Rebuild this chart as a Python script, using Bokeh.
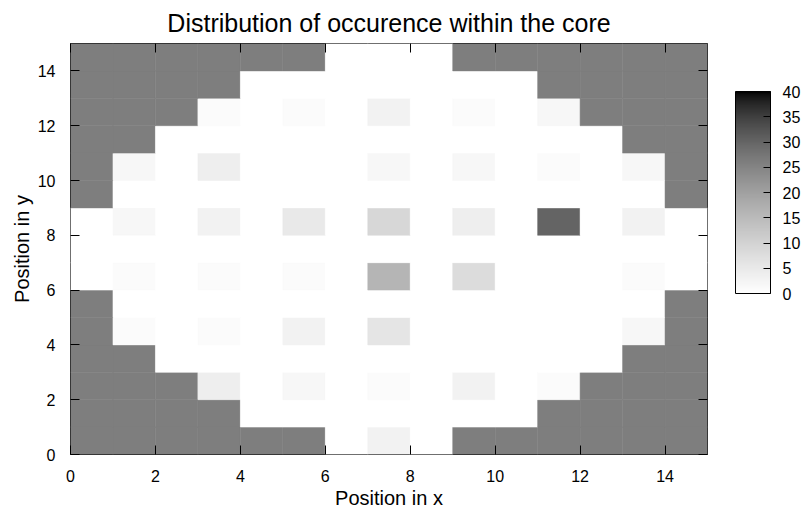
from bokeh.plotting import figure
from bokeh.models import (LinearColorMapper, ColorBar, FixedTicker, LinearAxis,
                          ColumnDataSource, Range1d)
from bokeh.transform import transform
from bokeh.embed import file_html
from bokeh.resources import INLINE

# ---- data (rows listed from bottom, y=0, up to top, y=14) ----
OUT = 26  # cells outside the core
row_0 = [OUT, OUT, OUT, OUT, OUT, OUT, 0, 3, 0, OUT, OUT, OUT, OUT, OUT, OUT]
row_1 = [OUT, OUT, OUT, OUT, 0, 0, 0, 0, 0, 0, 0, OUT, OUT, OUT, OUT]
row_2 = [OUT, OUT, OUT, 4, 0, 2, 0, 1, 0, 3, 0, 1, OUT, OUT, OUT]
row_3 = [OUT, OUT, 0, 0, 0, 0, 0, 0, 0, 0, 0, 0, 0, OUT, OUT]
row_4 = [OUT, 1, 0, 1, 0, 3, 0, 6, 0, 0, 0, 0, 0, 2, OUT]
row_5 = [OUT, 0, 0, 0, 0, 0, 0, 0, 0, 0, 0, 0, 0, 0, OUT]
row_6 = [0, 1, 0, 1, 0, 1, 0, 16, 0, 8, 0, 0, 0, 1, 0]
row_7 = [0, 0, 0, 0, 0, 0, 0, 0, 0, 0, 0, 0, 0, 0, 0]
row_8 = [0, 2, 0, 3, 0, 5, 0, 9, 0, 4, 0, 30, 0, 3, 0]
row_9 = [OUT, 0, 0, 0, 0, 0, 0, 0, 0, 0, 0, 0, 0, 0, OUT]
row_10 = [OUT, 2, 0, 4, 0, 0, 0, 2, 0, 2, 0, 1, 0, 2, OUT]
row_11 = [OUT, OUT, 0, 0, 0, 0, 0, 0, 0, 0, 0, 0, 0, OUT, OUT]
row_12 = [OUT, OUT, OUT, 1, 0, 1, 0, 3, 0, 1, 0, 2, OUT, OUT, OUT]
row_13 = [OUT, OUT, OUT, OUT, 0, 0, 0, 0, 0, 0, 0, OUT, OUT, OUT, OUT]
row_14 = [OUT, OUT, OUT, OUT, OUT, OUT, 0, 0, 0, OUT, OUT, OUT, OUT, OUT, OUT]
rows = [row_0, row_1, row_2, row_3, row_4, row_5, row_6, row_7,
        row_8, row_9, row_10, row_11, row_12, row_13, row_14]

x_ticks = [0, 2, 4, 6, 8, 10, 12, 14]
y_ticks = [0, 2, 4, 6, 8, 10, 12, 14]
cbar_ticks = [0, 5, 10, 15, 20, 25, 30, 35, 40]
cbar_low, cbar_high = 0, 40

# ---- build cell table ----
xs, ys, vals = [], [], []
for j, row in enumerate(rows):
    for i, v in enumerate(row):
        xs.append(i)
        ys.append(j)
        vals.append(v)
src = ColumnDataSource(dict(left=xs, right=[x + 1 for x in xs],
                            bottom=ys, top=[y + 1 for y in ys], value=vals))

# gnuplot-like negative gray palette with gamma 1.5
palette = []
for k in range(256):
    t = k / 255
    g = round(255 * (1 - t) ** (1 / 1.5))
    palette.append("#%02x%02x%02x" % (g, g, g))
mapper = LinearColorMapper(palette=palette, low=cbar_low, high=cbar_high)

FONT = "Liberation Sans"
TICK_PX = "16px"

p = figure(width=807, height=513, frame_width=637, frame_height=411,
           x_range=Range1d(0, 15), y_range=Range1d(0, 15),
           output_backend="svg", toolbar_location=None,
           min_border_left=70, min_border_right=100,
           min_border_top=43, min_border_bottom=59)

p.quad(left="left", right="right", bottom="bottom", top="top", source=src,
       fill_color=transform("value", mapper),
       line_color=transform("value", mapper), line_width=0.5)

p.grid.visible = False
p.outline_line_color = "black"
p.outline_line_width = 1
p.background_fill_color = "white"

p.title.text = "Distribution of occurence within the core"
p.title.align = "center"
p.title.text_font = FONT
p.title.text_font_style = "normal"
p.title.text_font_size = "25px"
p.title.text_color = "black"
p.title.offset = 0
p.title.standoff = 13

for ax in (p.xaxis[0], p.yaxis[0]):
    ax.major_tick_in = 9
    ax.major_tick_out = 0
    ax.minor_tick_line_color = None
    ax.axis_line_color = None
    ax.major_tick_line_color = "black"
    ax.major_label_text_font = FONT
    ax.major_label_text_font_size = TICK_PX
    ax.major_label_text_color = "black"
    ax.axis_label_text_font = FONT
    ax.axis_label_text_font_size = "20px"
    ax.axis_label_text_font_style = "normal"
    ax.axis_label_text_color = "black"

p.xaxis[0].ticker = FixedTicker(ticks=x_ticks)
p.yaxis[0].ticker = FixedTicker(ticks=y_ticks)
p.xaxis[0].axis_label = "Position in x"
p.yaxis[0].axis_label = "Position in y"
p.xaxis[0].major_label_standoff = 15
p.xaxis[0].axis_label_standoff = 2
p.yaxis[0].major_label_standoff = 15
p.yaxis[0].axis_label_standoff = 2

# mirrored ticks on top and right
top_ax = LinearAxis(ticker=FixedTicker(ticks=x_ticks),
                    major_label_overrides={t: "" for t in x_ticks})
right_ax = LinearAxis(ticker=FixedTicker(ticks=y_ticks),
                      major_label_overrides={t: "" for t in y_ticks})
for ax in (top_ax, right_ax):
    ax.major_tick_in = 9
    ax.major_tick_out = 0
    ax.minor_tick_line_color = None
    ax.axis_line_color = None
    ax.major_tick_line_color = "black"
    ax.major_label_standoff = 0
p.add_layout(top_ax, "above")
p.add_layout(right_ax, "right")

cbar = ColorBar(color_mapper=mapper, ticker=FixedTicker(ticks=cbar_ticks),
                width=35, height=202, location=(28, 161), padding=0, margin=0,
                major_tick_in=7, major_tick_out=0,
                major_tick_line_color="black", bar_line_color="black",
                major_label_text_font=FONT, major_label_text_font_size=TICK_PX,
                major_label_text_color="black",
                label_standoff=12, background_fill_color=None,
                border_line_color=None, minor_tick_line_color=None)
p.add_layout(cbar, "right")

open("out.html", "w").write(file_html(p, INLINE))
